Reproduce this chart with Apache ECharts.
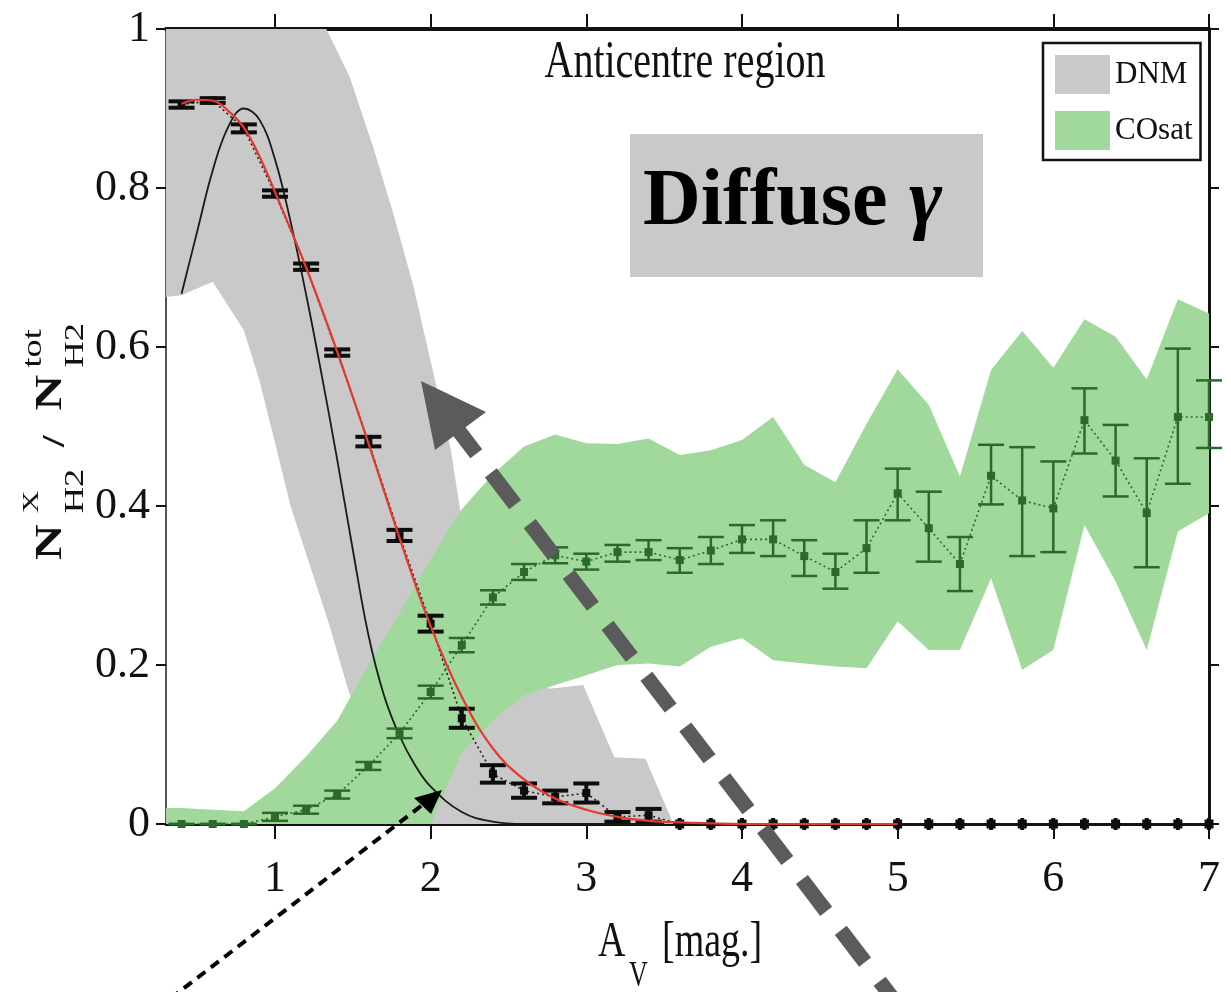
<!DOCTYPE html>
<html><head><meta charset="utf-8">
<script src="https://cdn.jsdelivr.net/npm/echarts@6/dist/echarts.min.js"></script>
<style>html,body{margin:0;padding:0;background:#fff}#c{width:1231px;height:992px}</style>
</head><body><div id="c"></div>
<script>
// ---------- data ----------
const avX = [0.4,0.6,0.8,1.0,1.2,1.4,1.6,1.8,2.0,2.2,2.4,2.6,2.8,3.0,3.2,3.4,3.6,3.8,4.0,4.2,4.4,4.6,4.8,5.0,5.2,5.4,5.6,5.8,6.0,6.2,6.4,6.6,6.8,7.0];
const dnmFrac = [0.905,0.910,0.875,0.793,0.701,0.593,0.481,0.363,0.252,0.133,0.063,0.042,0.034,0.039,0.009,0.011,0,0,0,0,0,0,0,0,0,0,0,0,0,0,0,0,0,0];
const dnmErr = [0.004,0.003,0.005,0.004,0.004,0.004,0.006,0.007,0.010,0.012,0.011,0.009,0.008,0.012,0.006,0.008,0.002,0.002,0.002,0.002,0.002,0.002,0.002,0.002,0.002,0.002,0.002,0.002,0.002,0.002,0.002,0.002,0.002,0.002];
const coFrac = [0,0,0,0.009,0.018,0.037,0.073,0.114,0.166,0.225,0.285,0.317,0.338,0.330,0.342,0.342,0.332,0.344,0.358,0.358,0.337,0.317,0.347,0.416,0.372,0.327,0.438,0.407,0.397,0.508,0.457,0.391,0.512,0.512];
const coLo = [0,0,0,0.004,0.013,0.032,0.068,0.108,0.158,0.216,0.276,0.307,0.328,0.320,0.330,0.332,0.316,0.327,0.341,0.337,0.312,0.296,0.316,0.382,0.330,0.293,0.402,0.337,0.342,0.466,0.412,0.323,0.428,0.473];
const coHi = [0,0,0,0.014,0.023,0.042,0.078,0.120,0.174,0.234,0.294,0.327,0.348,0.340,0.351,0.357,0.347,0.361,0.376,0.382,0.357,0.340,0.382,0.447,0.418,0.361,0.477,0.474,0.456,0.548,0.502,0.460,0.598,0.558];

const coBandX = [0.3,0.4,0.6,0.8,1.0,1.2,1.4,1.6,1.8,2.0,2.2,2.4,2.6,2.8,3.0,3.2,3.4,3.6,3.8,4.0,4.2,4.4,4.6,4.8,5.0,5.2,5.4,5.6,5.8,6.0,6.2,6.4,6.6,6.8,7.0];
const coUpper = [0.02,0.02,0.018,0.016,0.045,0.085,0.13,0.2,0.265,0.333,0.396,0.44,0.475,0.49,0.479,0.478,0.485,0.464,0.47,0.483,0.512,0.452,0.43,0.503,0.572,0.527,0.437,0.571,0.62,0.574,0.635,0.613,0.559,0.66,0.642];
const coLower = [0,0,0,0,0,0,0,0,0,0,0.09,0.13,0.162,0.175,0.187,0.2,0.202,0.198,0.223,0.234,0.206,0.202,0.198,0.196,0.255,0.219,0.219,0.309,0.194,0.219,0.376,0.305,0.219,0.368,0.391];

const dnmUpX = [0.3,1.33,1.48,1.63,1.76,1.89,2.02,2.13,2.19,2.4,2.6,2.76,2.98,3.18,3.38,3.56];
const dnmUpY = [1,1,0.94,0.852,0.768,0.676,0.565,0.47,0.395,0.27,0.2,0.17,0.175,0.084,0.082,0];
const dnmLoX = [0.3,0.4,0.6,0.8,0.9,1.0,1.1,1.2,1.35,1.47,1.6,1.8,2.0,3.56];
const dnmLoY = [0.663,0.665,0.682,0.621,0.558,0.48,0.40,0.34,0.25,0.169,0.10,0.03,0,0];

const modelX = [0.4,0.5,0.6,0.7,0.8,0.9,1.0,1.1,1.2,1.3,1.4,1.5,1.6,1.7,1.8,1.9,2.0,2.2,2.4,2.6,3.0,3.5];
const modelY = [0.667,0.745,0.822,0.877,0.900,0.886,0.836,0.758,0.666,0.565,0.458,0.345,0.238,0.162,0.111,0.074,0.047,0.015,0.003,0,0,0];
const fitX = [0.4,0.5,0.6,0.7,0.8,0.9,1.0,1.2,1.4,1.6,1.8,2.0,2.2,2.4,2.6,2.8,3.0,3.2,3.4,3.6,4.0,5.0];
const fitY = [0.906,0.911,0.910,0.897,0.876,0.840,0.795,0.700,0.594,0.479,0.360,0.249,0.160,0.095,0.056,0.032,0.018,0.009,0.004,0.002,0,0];

const xTicks = [1,2,3,4,5,6,7];
const legendNames = ['DNM','COsat'];

// ---------- styles ----------
const SERIF = "'Liberation Serif','Times New Roman',serif";
const GREY = '#c9c9c9', LGREEN = '#a0d99b', DGREEN = '#2c6a29', RED = '#e5392f';

const chart = echarts.init(document.getElementById('c'), null, {renderer:'canvas'});

function bandRender(upX, upY, loX, loY, color) {
  return function (params, api) {
    if (params.dataIndex !== 0) return null;
    const pts = [];
    for (let i = 0; i < upX.length; i++) pts.push(api.coord([upX[i], upY[i]]));
    for (let i = loX.length - 1; i >= 0; i--) pts.push(api.coord([loX[i], loY[i]]));
    return {type:'polygon', shape:{points:pts}, style:{fill:color}};
  };
}
function errRender(color, capHalf, capW, lineW, mark, smallHalf) {
  return function (params, api) {
    const x = api.value(0), y = api.value(1), lo = api.value(2), hi = api.value(3);
    const p = api.coord([x, y]), pl = api.coord([x, lo]), ph = api.coord([x, hi]);
    const small = smallHalf && y < 0.002;
    const hw = small ? smallHalf : capHalf;
    const m = small ? mark + 1 : mark;
    return {type:'group', children:[
      {type:'line', shape:{x1:p[0], y1:small ? p[1]-6 : pl[1], x2:p[0], y2:small ? p[1]+6 : ph[1]}, style:{stroke:color, lineWidth:lineW}},
      {type:'line', shape:{x1:p[0]-hw, y1:pl[1], x2:p[0]+hw, y2:pl[1]}, style:{stroke:color, lineWidth:capW}},
      {type:'line', shape:{x1:p[0]-hw, y1:ph[1], x2:p[0]+hw, y2:ph[1]}, style:{stroke:color, lineWidth:capW}},
      {type:'rect', shape:{x:p[0]-m/2, y:p[1]-m/2, width:m, height:m}, style:{fill:color}}
    ]};
  };
}

const dnmPts = avX.map((x, i) => [x, dnmFrac[i], dnmFrac[i] - dnmErr[i], dnmFrac[i] + dnmErr[i]]);
const coPts = avX.map((x, i) => [x, coFrac[i], coLo[i], coHi[i]]);

const TXT = (t, font, x, y, extra) => Object.assign({type:'text', x:x, y:y,
  style:{text:t, font:font, fill:'#111', textAlign:'left', align:'left', textVerticalAlign:'middle', verticalAlign:'middle'}}, extra || {});

const option = {
  backgroundColor:'#fff',
  animation:false,
  grid:{left:166, right:22, top:29, bottom:168, containLabel:false, outerBoundsMode:'none'},
  legend:{
    data:legendNames.map(n => ({name:n, icon:'rect'})),
    orient:'vertical', left:1043, top:43,
    itemWidth:55, itemHeight:39, itemGap:17,
    padding:[12,8,10,12],
    borderColor:'#111', borderWidth:2.5, backgroundColor:'#fff',
    selectedMode:false, z:50,
    textStyle:{fontFamily:SERIF, fontSize:31, color:'#111'}
  },
  xAxis:[
    {type:'value', min:0.3, max:7, position:'bottom',
     axisLine:{onZero:false, lineStyle:{color:'#111', width:3}},
     axisTick:{show:true, inside:false, length:15, customValues:xTicks, lineStyle:{color:'#111', width:2}},
     axisLabel:{show:true, customValues:xTicks, margin:33, fontFamily:SERIF, fontSize:44, color:'#111'},
     splitLine:{show:false}},
    {type:'value', min:0.3, max:7, position:'top',
     axisLine:{onZero:false, lineStyle:{color:'#111', width:4}},
     axisTick:{show:true, inside:false, length:15, customValues:xTicks, lineStyle:{color:'#111', width:2}},
     axisLabel:{show:false},
     splitLine:{show:false}}
  ],
  yAxis:[
    {type:'value', min:0, max:1, interval:0.2, position:'left',
     axisLine:{onZero:false, lineStyle:{color:'#555', width:2}},
     axisTick:{show:true, inside:false, length:10, lineStyle:{color:'#111', width:2}},
     axisLabel:{show:true, margin:16, fontFamily:SERIF, fontSize:44, color:'#111'},
     splitLine:{show:false}},
    {type:'value', min:0, max:1, interval:0.2, position:'right',
     axisLine:{onZero:false, lineStyle:{color:'#111', width:3}},
     axisTick:{show:true, inside:false, length:10, lineStyle:{color:'#111', width:2}},
     axisLabel:{show:false},
     splitLine:{show:false}}
  ],
  series:[
    {name:'DNM', type:'custom', xAxisIndex:0, yAxisIndex:0, z:1, clip:true, silent:true,
     itemStyle:{color:GREY},
     renderItem:bandRender(dnmUpX, dnmUpY, dnmLoX, dnmLoY, GREY),
     data:[[dnmUpX[0], dnmUpY[0]]]},
    {name:'COsat', type:'custom', xAxisIndex:0, yAxisIndex:0, z:2, clip:true, silent:true,
     itemStyle:{color:LGREEN},
     renderItem:bandRender(coBandX, coUpper, coBandX, coLower, LGREEN),
     data:[[coBandX[0], coUpper[0]]]},
    {name:'model', type:'line', z:3, smooth:0.4, symbol:'none', silent:true,
     lineStyle:{color:'#1a1a1a', width:1.8},
     data:modelX.map((x, i) => [x, modelY[i]])},
    {name:'dnmLine', type:'line', z:4, symbol:'none', silent:true,
     lineStyle:{color:'#222', width:1.6, type:[2,3]},
     data:avX.map((x, i) => [x, dnmFrac[i]])},
    {name:'coLine', type:'line', z:4, symbol:'none', silent:true,
     lineStyle:{color:DGREEN, width:1.6, type:[2,3]},
     data:avX.map((x, i) => [x, coFrac[i]])},
    {name:'dnmPts', type:'custom', z:5, clip:false, silent:true,
     renderItem:errRender('#0d0d0d', 13, 4, 4, 8, 4),
     encode:{x:0, y:1}, data:dnmPts},
    {name:'coPts', type:'custom', z:5, clip:false, silent:true,
     renderItem:errRender(DGREEN, 13, 2.5, 2.5, 8, null),
     encode:{x:0, y:1}, data:coPts},
    {name:'fit', type:'line', z:6, smooth:0.4, symbol:'none', silent:true,
     lineStyle:{color:RED, width:2.2},
     data:fitX.map((x, i) => [x, fitY[i]])}
  ],
  graphic:[
    // title
    {type:'text', z:60, x:685, y:63, scaleY:1.3,
     style:{text:'Anticentre region', font:'40px ' + SERIF, fill:'#111', textAlign:'center', align:'center', textVerticalAlign:'middle', verticalAlign:'middle'}},
    // Diffuse gamma box
    {type:'rect', z:60, shape:{x:630, y:134, width:353, height:143}, style:{fill:'#c9c9c9'}},
    {type:'text', z:61, x:643, y:203,
     style:{text:'Diffuse', font:'bold 80px ' + SERIF, fill:'#000', textAlign:'left', align:'left', textVerticalAlign:'middle', verticalAlign:'middle'}},
    {type:'text', z:61, x:909, y:203,
     style:{text:'γ', font:'italic bold 80px ' + SERIF, fill:'#000', textAlign:'left', align:'left', textVerticalAlign:'middle', verticalAlign:'middle'}},
    // x axis title
    TXT('A', '38px ' + SERIF, 598, 943, {z:60, scaleY:1.35}),
    TXT('V', '26px ' + SERIF, 629, 977, {z:60, scaleY:1.35}),
    TXT('[mag.]', '38px ' + SERIF, 662, 943, {z:60, scaleY:1.35}),
    // y axis title (rotated)
    {type:'group', z:60, x:65, y:560, rotation:Math.PI/2, scaleX:1.3, children:[
      TXT('N', 'bold 38px ' + SERIF, 0, -14),
      TXT('X', '24px ' + SERIF, 36, -33),
      TXT('H2', '28px ' + SERIF, 36, 11),
      TXT('/', 'bold 32px ' + SERIF, 87, -9),
      TXT('N', 'bold 38px ' + SERIF, 115, -14),
      TXT('tot', '28px ' + SERIF, 148, -31),
      TXT('H2', '28px ' + SERIF, 148, 11)
    ]},
    // big dashed arrow
    {type:'line', z:70, shape:{x1:452, y1:422, x2:894, y2:1000},
     style:{stroke:'#5b5b5b', lineWidth:15, lineDash:[40,24], lineDashOffset:0}},
    {type:'polygon', z:71, shape:{points:[[421,381],[486,412],[435,450]]}, style:{fill:'#5b5b5b'}},
    // small dotted arrow
    {type:'line', z:70, shape:{x1:421, y1:806, x2:175, y2:995},
     style:{stroke:'#000', lineWidth:4, lineDash:[10,7]}},
    {type:'polygon', z:70, shape:{points:[[442,790],[414,798],[431,814]]}, style:{fill:'#000'}}
  ]
};
chart.setOption(option);
</script>
</body></html>
